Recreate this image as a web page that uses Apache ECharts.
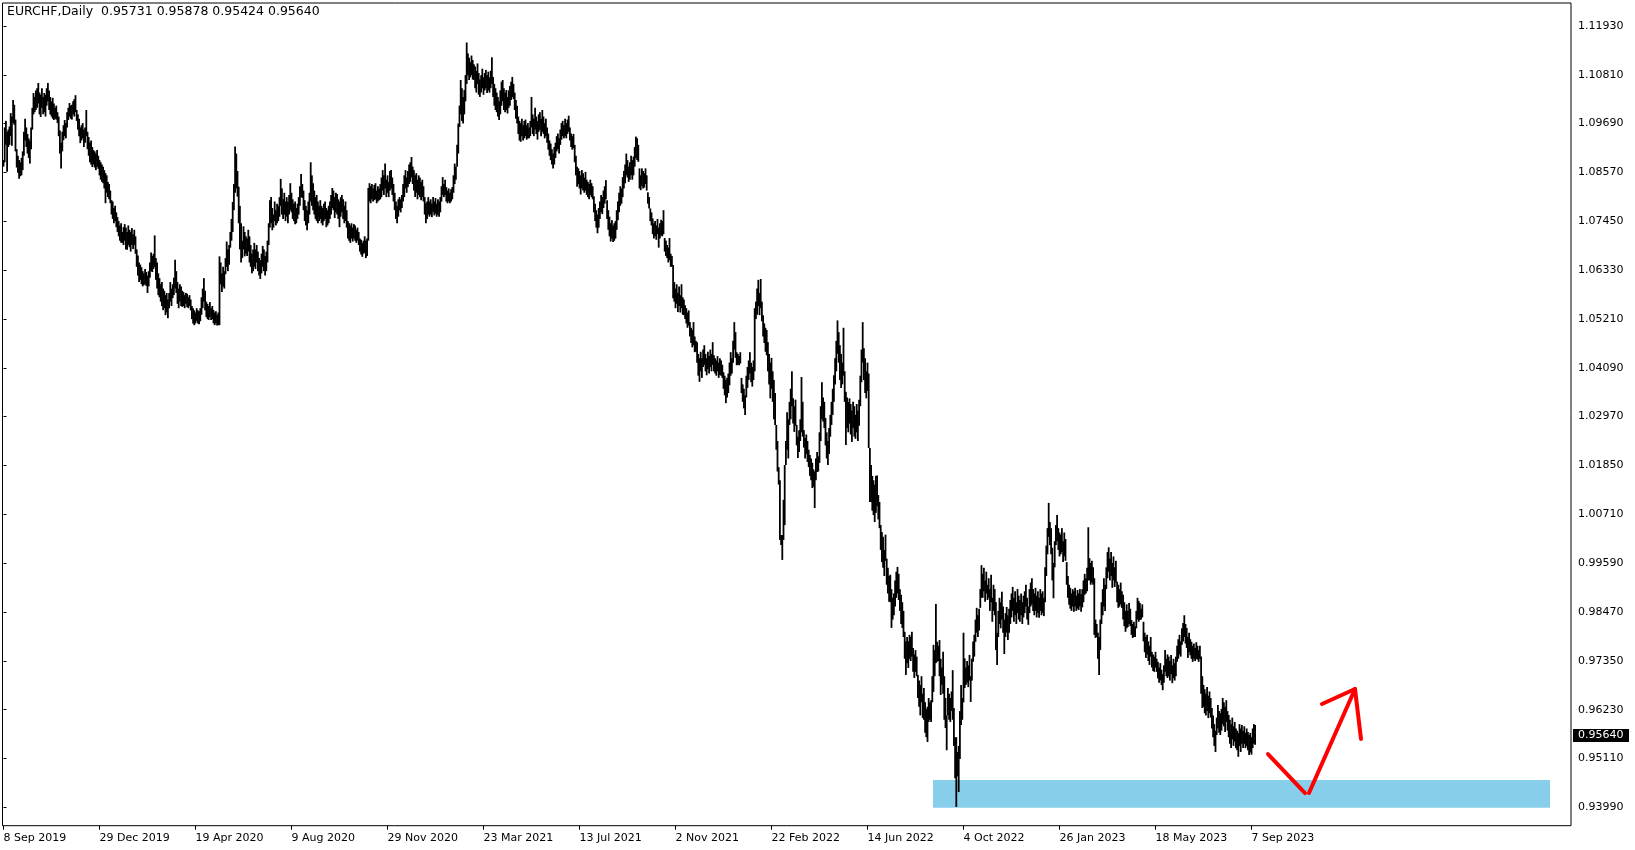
<!DOCTYPE html>
<html><head><meta charset="utf-8">
<script src="https://cdn.jsdelivr.net/npm/echarts@6/dist/echarts.min.js"></script>
<style>html,body{margin:0;padding:0;background:#fff}#c{width:1635px;height:850px}</style>
</head><body><div id="c"></div>
<script>
const symbolTitle = 'EURCHF,Daily';
const lastBar = [0.95731, 0.95878, 0.95424, 0.95640]; // open, high, low, close
const xLabels = ['8 Sep 2019','29 Dec 2019','19 Apr 2020','9 Aug 2020','29 Nov 2020','23 Mar 2021','13 Jul 2021','2 Nov 2021','22 Feb 2022','14 Jun 2022','4 Oct 2022','26 Jan 2023','18 May 2023','7 Sep 2023'];
const xLabelStep = 80; // bars between date labels
const yLabels = ['0.93990','0.95110','0.96230','0.97350','0.98470','0.99590','1.00710','1.01850','1.02970','1.04090','1.05210','1.06330','1.07450','1.08570','1.09690','1.10810','1.11930'];
const yLabelBase = 0.9399, yLabelStep = 0.0112125;

const highs = [
1.0885,1.0960,1.0975,1.0950,1.0955,1.0962,1.0993,1.0985,1.1023,1.1012,
1.0978,1.0910,1.0895,1.0885,1.0880,1.0890,1.0905,1.0950,1.0980,1.0960,
1.0945,1.0935,1.0930,1.0960,1.1005,1.1039,1.1030,1.1045,1.1050,1.1062,
1.1040,1.1035,1.1050,1.1030,1.1039,1.1035,1.1050,1.1062,1.1045,1.1030,
1.1020,1.1028,1.1015,1.1005,1.1010,1.0995,1.0985,1.0953,1.0925,1.0950,
1.0965,1.0977,1.0970,1.0995,1.1005,1.1016,1.1010,1.1012,1.1020,1.1025,
1.1034,1.1000,1.0990,1.0980,1.0960,1.0965,1.0970,1.0955,1.0960,1.1000,
1.0950,1.0938,1.0925,1.0930,1.0915,1.0908,1.0905,1.0900,1.0908,1.0895,
1.0885,1.0880,1.0875,1.0870,1.0862,1.0855,1.0850,1.0835,1.0830,1.0815,
1.0793,1.0790,1.0775,1.0780,1.0765,1.0754,1.0745,1.0735,1.0740,1.0720,
1.0731,1.0738,1.0730,1.0720,1.0735,1.0725,1.0720,1.0729,1.0715,1.0725,
1.0710,1.0680,1.0666,1.0650,1.0645,1.0639,1.0630,1.0625,1.0635,1.0628,
1.0620,1.0630,1.0650,1.0673,1.0665,1.0670,1.0712,1.0660,1.0650,1.0625,
1.0614,1.0600,1.0605,1.0590,1.0585,1.0575,1.0580,1.0565,1.0580,1.0605,
1.0590,1.0600,1.0615,1.0656,1.0630,1.0605,1.0590,1.0600,1.0595,1.0585,
1.0582,1.0575,1.0580,1.0578,1.0570,1.0575,1.0565,1.0550,1.0545,1.0540,
1.0535,1.0545,1.0540,1.0538,1.0545,1.0570,1.0590,1.0614,1.0585,1.0560,
1.0555,1.0550,1.0559,1.0545,1.0550,1.0541,1.0535,1.0538,1.0530,1.0535,
1.0664,1.0650,1.0625,1.0640,1.0630,1.0660,1.0698,1.0680,1.0690,1.0720,
1.0750,1.0789,1.0830,1.0916,1.0900,1.0860,1.0824,1.0780,1.0740,1.0700,
1.0733,1.0720,1.0710,1.0705,1.0725,1.0710,1.0690,1.0670,1.0680,1.0695,
1.0680,1.0690,1.0675,1.0660,1.0655,1.0670,1.0688,1.0680,1.0665,1.0675,
1.0700,1.0740,1.0793,1.0800,1.0775,1.0760,1.0790,1.0770,1.0785,1.0780,
1.0800,1.0842,1.0820,1.0795,1.0810,1.0790,1.0800,1.0790,1.0805,1.0832,
1.0810,1.0795,1.0785,1.0790,1.0775,1.0785,1.0800,1.0825,1.0853,1.0830,
1.0815,1.0793,1.0780,1.0770,1.0790,1.0810,1.0880,1.0850,1.0832,1.0815,
1.0800,1.0805,1.0790,1.0780,1.0793,1.0780,1.0775,1.0785,1.0790,1.0775,
1.0770,1.0780,1.0790,1.0805,1.0821,1.0815,1.0800,1.0810,1.0807,1.0795,
1.0790,1.0800,1.0805,1.0795,1.0780,1.0790,1.0770,1.0745,1.0740,1.0735,
1.0740,1.0730,1.0738,1.0735,1.0725,1.0730,1.0720,1.0705,1.0702,1.0695,
1.0700,1.0710,1.0700,1.0705,1.0821,1.0832,1.0825,1.0830,1.0820,1.0828,
1.0832,1.0815,1.0825,1.0820,1.0830,1.0845,1.0862,1.0850,1.0877,1.0840,
1.0850,1.0835,1.0860,1.0862,1.0845,1.0830,1.0810,1.0790,1.0780,1.0795,
1.0800,1.0795,1.0805,1.0830,1.0850,1.0862,1.0845,1.0860,1.0875,1.0880,
1.0892,1.0870,1.0862,1.0850,1.0855,1.0840,1.0850,1.0845,1.0835,1.0840,
1.0825,1.0800,1.0786,1.0790,1.0800,1.0790,1.0795,1.0785,1.0800,1.0790,
1.0798,1.0785,1.0795,1.0790,1.0800,1.0825,1.0846,1.0830,1.0840,1.0823,
1.0815,1.0820,1.0810,1.0818,1.0823,1.0850,1.0877,1.0870,1.0920,1.0969,
1.1010,1.1069,1.1050,1.1030,1.1046,1.1080,1.1155,1.1130,1.1120,1.1110,
1.1125,1.1115,1.1105,1.1100,1.1090,1.1107,1.1085,1.1070,1.1080,1.1095,
1.1075,1.1085,1.1092,1.1080,1.1088,1.1075,1.1090,1.1121,1.1076,1.1060,
1.1050,1.1040,1.1030,1.1020,1.1045,1.1065,1.1069,1.1050,1.1040,1.1046,
1.1030,1.1045,1.1055,1.1065,1.1076,1.1060,1.1040,1.1023,1.1010,1.0985,
1.0975,1.0970,1.0980,1.0965,1.0975,1.0978,1.0965,1.0970,1.0960,1.0975,
1.1030,1.0990,1.0980,1.1005,1.0985,1.0975,1.0990,1.0995,1.0980,1.1000,
1.0985,1.0970,1.0980,1.0960,1.0946,1.0930,1.0923,1.0910,1.0900,1.0915,
1.0925,1.0940,1.0946,1.0935,1.0955,1.0970,1.0975,1.0965,1.0980,1.0970,
1.0978,1.0987,1.0960,1.0946,1.0940,1.0945,1.0920,1.0895,1.0870,1.0866,
1.0860,1.0850,1.0862,1.0855,1.0845,1.0858,1.0840,1.0835,1.0830,1.0840,
1.0832,1.0825,1.0802,1.0785,1.0770,1.0760,1.0775,1.0790,1.0805,1.0800,
1.0815,1.0825,1.0839,1.0793,1.0770,1.0755,1.0740,1.0747,1.0735,1.0740,
1.0745,1.0770,1.0790,1.0810,1.0825,1.0820,1.0846,1.0860,1.0875,1.0900,
1.0885,1.0870,1.0880,1.0895,1.0885,1.0893,1.0915,1.0939,1.0935,1.0920,
1.0866,1.0850,1.0866,1.0860,1.0855,1.0866,1.0850,1.0811,1.0800,1.0774,
1.0765,1.0751,1.0740,1.0745,1.0735,1.0750,1.0730,1.0740,1.0748,1.0745,
1.0770,1.0706,1.0700,1.0690,1.0684,1.0706,1.0670,1.0665,1.0644,1.0605,
1.0590,1.0600,1.0580,1.0595,1.0575,1.0600,1.0570,1.0565,1.0552,1.0545,
1.0535,1.0540,1.0513,1.0500,1.0495,1.0513,1.0480,1.0470,1.0467,1.0440,
1.0430,1.0445,1.0430,1.0450,1.0460,1.0440,1.0430,1.0445,1.0435,1.0450,
1.0440,1.0467,1.0437,1.0430,1.0425,1.0435,1.0420,1.0430,1.0425,1.0415,
1.0398,1.0390,1.0380,1.0385,1.0395,1.0420,1.0444,1.0430,1.0470,1.0513,
1.0490,1.0444,1.0440,1.0435,1.0444,1.0385,1.0370,1.0360,1.0345,1.0390,
1.0410,1.0425,1.0444,1.0420,1.0410,1.0425,1.0545,1.0560,1.0590,1.0610,
1.0580,1.0612,1.0560,1.0529,1.0510,1.0500,1.0495,1.0467,1.0440,1.0420,
1.0431,1.0400,1.0380,1.0350,1.0277,1.0240,1.0180,1.0150,1.0024,1.0024,
1.0105,1.0185,1.0240,1.0306,1.0290,1.0330,1.0360,1.0400,1.0338,1.0320,
1.0335,1.0277,1.0250,1.0265,1.0290,1.0387,1.0330,1.0265,1.0247,1.0255,
1.0240,1.0220,1.0208,1.0200,1.0190,1.0175,1.0170,1.0200,1.0215,1.0205,
1.0260,1.0320,1.0375,1.0340,1.0330,1.0293,1.0260,1.0240,1.0270,1.0300,
1.0330,1.0360,1.0391,1.0430,1.0470,1.0517,1.0490,1.0460,1.0440,1.0420,
1.0500,1.0400,1.0353,1.0340,1.0330,1.0338,1.0325,1.0310,1.0330,1.0320,
1.0300,1.0325,1.0310,1.0335,1.0390,1.0450,1.0513,1.0453,1.0430,1.0400,
1.0420,1.0395,1.0224,1.0185,1.0160,1.0150,1.0140,1.0160,1.0161,1.0116,
1.0100,1.0047,1.0031,1.0020,0.9990,1.0025,0.9970,0.9949,0.9930,0.9933,
0.9900,0.9880,0.9890,0.9920,0.9940,0.9951,0.9935,0.9900,0.9887,0.9870,
0.9850,0.9802,0.9780,0.9790,0.9780,0.9795,0.9790,0.9802,0.9765,0.9750,
0.9760,0.9745,0.9703,0.9690,0.9680,0.9700,0.9660,0.9673,0.9640,0.9625,
0.9630,0.9650,0.9640,0.9645,0.9700,0.9772,0.9760,0.9866,0.9779,0.9770,
0.9783,0.9740,0.9720,0.9756,0.9700,0.9650,0.9610,0.9673,0.9660,0.9650,
0.9665,0.9714,0.9627,0.9560,0.9560,0.9526,0.9540,0.9620,0.9680,0.9650,
0.9800,0.9741,0.9720,0.9735,0.9725,0.9749,0.9700,0.9740,0.9780,0.9795,
0.9830,0.9857,0.9840,0.9855,0.9900,0.9955,0.9935,0.9949,0.9920,0.9940,
0.9910,0.9925,0.9900,0.9933,0.9880,0.9910,0.9900,0.9870,0.9800,0.9850,
0.9880,0.9870,0.9894,0.9860,0.9830,0.9845,0.9859,0.9840,0.9855,0.9875,
0.9890,0.9905,0.9880,0.9895,0.9870,0.9900,0.9885,0.9875,0.9890,0.9870,
0.9885,0.9895,0.9910,0.9880,0.9860,0.9900,0.9915,0.9925,0.9900,0.9890,
0.9903,0.9885,0.9895,0.9880,0.9900,0.9890,0.9895,0.9880,0.9950,1.0000,
1.0040,1.0098,1.0054,1.0040,0.9995,0.9960,1.0010,1.0047,1.0070,1.0040,
1.0030,1.0025,1.0040,1.0010,1.0030,1.0015,0.9962,0.9930,0.9910,0.9903,
0.9890,0.9900,0.9895,0.9903,0.9885,0.9898,0.9890,0.9900,0.9888,0.9900,
0.9920,0.9935,0.9925,0.9949,1.0042,0.9971,0.9960,0.9965,0.9950,0.9925,
0.9830,0.9820,0.9800,0.9790,0.9830,0.9870,0.9900,0.9925,0.9910,0.9950,
0.9985,0.9996,0.9970,0.9985,0.9960,0.9975,0.9950,0.9965,0.9917,0.9910,
0.9900,0.9915,0.9895,0.9887,0.9870,0.9850,0.9865,0.9850,0.9868,0.9855,
0.9829,0.9820,0.9825,0.9815,0.9850,0.9880,0.9873,0.9868,0.9855,0.9865,
0.9825,0.9800,0.9790,0.9795,0.9780,0.9770,0.9790,0.9756,0.9750,0.9745,
0.9756,0.9740,0.9733,0.9720,0.9730,0.9715,0.9705,0.9725,0.9760,0.9740,
0.9750,0.9745,0.9735,0.9749,0.9725,0.9740,0.9730,0.9745,0.9770,0.9785,
0.9795,0.9780,0.9810,0.9822,0.9840,0.9820,0.9811,0.9790,0.9800,0.9785,
0.9779,0.9770,0.9775,0.9765,0.9778,0.9770,0.9760,0.9770,0.9745,0.9700,
0.9680,0.9670,0.9660,0.9675,0.9655,0.9665,0.9650,0.9627,0.9610,0.9590,
0.9575,0.9605,0.9634,0.9620,0.9615,0.9625,0.9650,0.9640,0.9630,0.9645,
0.9620,0.9611,0.9600,0.9590,0.9605,0.9585,0.9595,0.9580,0.9575,0.9570,
0.9590,0.9580,0.9588,0.9575,0.9585,0.9570,0.9580,0.9572,0.9565,0.9570,
0.9560,0.9580,0.9590,0.95878
];

const lows = [
1.0870,1.0880,1.0920,1.0858,1.0915,1.0920,1.0940,1.0918,1.0970,1.0966,
1.0905,1.0868,1.0856,1.0842,1.0848,1.0850,1.0862,1.0895,1.0930,1.0915,
1.0900,1.0890,1.0877,1.0910,1.0955,1.0990,1.0995,1.1000,1.1005,1.1015,
1.0990,1.0984,1.1005,1.0990,1.0995,1.0985,1.1010,1.1020,1.1000,1.0990,
1.0985,1.0980,1.0977,1.0980,1.0978,1.0970,1.0940,1.0900,1.0866,1.0905,
1.0931,1.0940,1.0935,1.0960,1.0977,1.0985,1.0980,1.0978,1.0990,1.0985,
1.0995,1.0975,1.0955,1.0940,1.0924,1.0930,1.0935,1.0915,1.0925,1.0940,
1.0910,1.0895,1.0880,1.0875,1.0869,1.0875,1.0868,1.0862,1.0870,1.0865,
1.0850,1.0840,1.0835,1.0832,1.0820,1.0786,1.0810,1.0800,1.0795,1.0786,
1.0760,1.0750,1.0740,1.0745,1.0731,1.0720,1.0710,1.0700,1.0695,1.0695,
1.0690,1.0700,1.0680,1.0679,1.0690,1.0685,1.0675,1.0690,1.0681,1.0690,
1.0670,1.0640,1.0620,1.0605,1.0610,1.0600,1.0595,1.0598,1.0600,1.0596,
1.0580,1.0595,1.0615,1.0630,1.0628,1.0635,1.0640,1.0610,1.0590,1.0575,
1.0570,1.0560,1.0550,1.0540,1.0545,1.0529,1.0535,1.0522,1.0545,1.0560,
1.0550,1.0568,1.0575,1.0590,1.0580,1.0555,1.0545,1.0560,1.0550,1.0548,
1.0550,1.0545,1.0555,1.0548,1.0545,1.0550,1.0540,1.0520,1.0510,1.0506,
1.0510,1.0515,1.0510,1.0508,1.0515,1.0530,1.0545,1.0560,1.0540,1.0525,
1.0520,1.0518,1.0525,1.0518,1.0520,1.0510,1.0506,1.0510,1.0505,1.0506,
1.0506,1.0600,1.0582,1.0595,1.0590,1.0623,1.0640,1.0630,1.0645,1.0684,
1.0700,1.0720,1.0770,1.0810,1.0820,1.0801,1.0740,1.0680,1.0650,1.0660,
1.0680,1.0664,1.0670,1.0665,1.0675,1.0650,1.0640,1.0625,1.0630,1.0640,
1.0635,1.0650,1.0630,1.0620,1.0612,1.0625,1.0640,1.0630,1.0620,1.0630,
1.0650,1.0690,1.0730,1.0740,1.0724,1.0730,1.0745,1.0735,1.0740,1.0745,
1.0755,1.0780,1.0760,1.0750,1.0760,1.0745,1.0755,1.0740,1.0760,1.0770,
1.0765,1.0750,1.0745,1.0738,1.0740,1.0750,1.0760,1.0780,1.0800,1.0798,
1.0770,1.0745,1.0735,1.0724,1.0740,1.0760,1.0790,1.0780,1.0770,1.0760,
1.0750,1.0745,1.0740,1.0745,1.0750,1.0740,1.0735,1.0745,1.0750,1.0731,
1.0735,1.0740,1.0750,1.0760,1.0775,1.0770,1.0752,1.0765,1.0760,1.0750,
1.0731,1.0755,1.0765,1.0750,1.0740,1.0745,1.0730,1.0705,1.0700,1.0695,
1.0705,1.0698,1.0705,1.0700,1.0695,1.0700,1.0690,1.0675,1.0668,1.0663,
1.0670,1.0672,1.0660,1.0665,1.0700,1.0790,1.0786,1.0795,1.0790,1.0793,
1.0795,1.0786,1.0790,1.0793,1.0795,1.0800,1.0815,1.0805,1.0820,1.0800,
1.0810,1.0800,1.0815,1.0820,1.0805,1.0790,1.0770,1.0750,1.0740,1.0755,
1.0770,1.0765,1.0775,1.0790,1.0800,1.0820,1.0810,1.0823,1.0830,1.0835,
1.0845,1.0830,1.0815,1.0800,1.0810,1.0795,1.0805,1.0800,1.0793,1.0800,
1.0790,1.0760,1.0740,1.0750,1.0760,1.0755,1.0760,1.0754,1.0765,1.0758,
1.0762,1.0755,1.0760,1.0755,1.0765,1.0790,1.0805,1.0800,1.0805,1.0790,
1.0786,1.0790,1.0786,1.0790,1.0795,1.0810,1.0830,1.0840,1.0870,1.0900,
1.0961,1.0990,1.0975,1.0969,1.0990,1.1020,1.1060,1.1080,1.1069,1.1075,
1.1080,1.1070,1.1069,1.1050,1.1040,1.1060,1.1035,1.1030,1.1040,1.1050,
1.1035,1.1045,1.1050,1.1039,1.1045,1.1040,1.1050,1.1060,1.1030,1.1010,
1.1000,1.0995,1.0985,1.0977,1.0990,1.1010,1.1020,1.1000,1.0995,1.1000,
1.0992,1.1005,1.1010,1.1023,1.1030,1.1025,1.1000,1.0980,1.0969,1.0945,
1.0930,1.0927,1.0940,1.0930,1.0935,1.0940,1.0932,1.0935,1.0935,1.0940,
1.0960,1.0945,1.0940,1.0955,1.0945,1.0932,1.0950,1.0955,1.0940,1.0950,
1.0945,1.0935,1.0940,1.0925,1.0909,1.0895,1.0885,1.0875,1.0866,1.0875,
1.0890,1.0905,1.0910,1.0900,1.0920,1.0932,1.0940,1.0935,1.0940,1.0935,
1.0945,1.0950,1.0930,1.0915,1.0909,1.0912,1.0880,1.0850,1.0824,1.0830,
1.0820,1.0806,1.0820,1.0815,1.0810,1.0815,1.0805,1.0800,1.0795,1.0805,
1.0800,1.0795,1.0765,1.0745,1.0730,1.0717,1.0730,1.0750,1.0765,1.0761,
1.0775,1.0785,1.0795,1.0750,1.0725,1.0710,1.0698,1.0705,1.0697,1.0700,
1.0705,1.0725,1.0747,1.0765,1.0780,1.0785,1.0800,1.0820,1.0832,1.0850,
1.0845,1.0835,1.0840,1.0850,1.0840,1.0850,1.0870,1.0890,1.0885,1.0881,
1.0820,1.0816,1.0825,1.0820,1.0822,1.0830,1.0815,1.0785,1.0774,1.0745,
1.0735,1.0715,1.0705,1.0710,1.0702,1.0715,1.0684,1.0705,1.0712,1.0710,
1.0715,1.0675,1.0665,1.0660,1.0650,1.0655,1.0640,1.0640,1.0568,1.0560,
1.0545,1.0555,1.0536,1.0550,1.0535,1.0545,1.0530,1.0529,1.0520,1.0510,
1.0500,1.0505,1.0480,1.0465,1.0455,1.0460,1.0444,1.0445,1.0420,1.0390,
1.0376,1.0400,1.0385,1.0410,1.0415,1.0400,1.0391,1.0405,1.0395,1.0410,
1.0400,1.0415,1.0400,1.0395,1.0390,1.0400,1.0385,1.0392,1.0390,1.0385,
1.0360,1.0345,1.0327,1.0340,1.0350,1.0368,1.0390,1.0395,1.0420,1.0450,
1.0431,1.0414,1.0415,1.0414,1.0418,1.0350,1.0330,1.0315,1.0300,1.0340,
1.0362,1.0380,1.0395,1.0375,1.0365,1.0380,1.0400,1.0520,1.0530,1.0550,
1.0529,1.0545,1.0515,1.0480,1.0465,1.0445,1.0437,1.0400,1.0370,1.0338,
1.0360,1.0330,1.0290,1.0277,1.0220,1.0170,1.0140,1.0013,1.0001,0.9967,
1.0013,1.0047,1.0185,1.0220,1.0200,1.0277,1.0290,1.0320,1.0280,1.0261,
1.0275,1.0230,1.0201,1.0215,1.0240,1.0260,1.0250,1.0225,1.0200,1.0210,
1.0192,1.0180,1.0160,1.0150,1.0132,1.0135,1.0086,1.0150,1.0169,1.0170,
1.0190,1.0240,1.0290,1.0285,1.0270,1.0230,1.0200,1.0185,1.0210,1.0250,
1.0277,1.0300,1.0330,1.0370,1.0400,1.0440,1.0420,1.0380,1.0362,1.0370,
1.0390,1.0330,1.0231,1.0270,1.0260,1.0280,1.0255,1.0238,1.0270,1.0250,
1.0245,1.0260,1.0240,1.0275,1.0320,1.0375,1.0420,1.0380,1.0350,1.0338,
1.0355,1.0224,1.0100,1.0100,1.0080,1.0070,1.0054,1.0075,1.0090,1.0060,
1.0040,0.9990,0.9962,0.9949,0.9930,0.9965,0.9910,0.9890,0.9871,0.9870,
0.9811,0.9830,0.9840,0.9860,0.9880,0.9890,0.9875,0.9850,0.9820,0.9811,
0.9790,0.9740,0.9703,0.9730,0.9719,0.9740,0.9735,0.9745,0.9710,0.9696,
0.9710,0.9700,0.9650,0.9630,0.9610,0.9640,0.9604,0.9600,0.9570,0.9560,
0.9549,0.9595,0.9600,0.9595,0.9640,0.9664,0.9700,0.9730,0.9733,0.9735,
0.9700,0.9657,0.9680,0.9660,0.9600,0.9581,0.9530,0.9610,0.9600,0.9595,
0.9620,0.9600,0.9540,0.9466,0.9400,0.9470,0.9434,0.9510,0.9588,0.9600,
0.9640,0.9673,0.9680,0.9685,0.9675,0.9690,0.9641,0.9690,0.9733,0.9745,
0.9779,0.9800,0.9790,0.9805,0.9857,0.9880,0.9880,0.9895,0.9871,0.9890,
0.9875,0.9880,0.9850,0.9870,0.9825,0.9850,0.9840,0.9760,0.9726,0.9790,
0.9820,0.9810,0.9830,0.9800,0.9751,0.9790,0.9800,0.9783,0.9800,0.9820,
0.9835,0.9850,0.9825,0.9840,0.9820,0.9845,0.9830,0.9825,0.9840,0.9820,
0.9835,0.9845,0.9860,0.9830,0.9818,0.9845,0.9860,0.9865,0.9850,0.9840,
0.9850,0.9835,0.9845,0.9834,0.9850,0.9840,0.9845,0.9838,0.9870,0.9930,
0.9980,1.0020,1.0001,0.9980,0.9920,0.9879,0.9950,1.0001,1.0010,0.9990,
0.9975,0.9980,0.9985,0.9962,0.9975,0.9965,0.9910,0.9880,0.9864,0.9855,
0.9850,0.9860,0.9848,0.9860,0.9850,0.9855,0.9852,0.9860,0.9848,0.9858,
0.9870,0.9887,0.9890,0.9895,0.9920,0.9920,0.9910,0.9915,0.9910,0.9795,
0.9788,0.9790,0.9740,0.9703,0.9760,0.9820,0.9840,0.9860,0.9850,0.9900,
0.9925,0.9940,0.9920,0.9930,0.9903,0.9920,0.9905,0.9915,0.9870,0.9857,
0.9860,0.9865,0.9857,0.9830,0.9815,0.9802,0.9810,0.9813,0.9820,0.9815,
0.9795,0.9788,0.9790,0.9790,0.9810,0.9830,0.9825,0.9829,0.9830,0.9835,
0.9780,0.9755,0.9742,0.9750,0.9735,0.9726,0.9745,0.9720,0.9712,0.9710,
0.9720,0.9710,0.9695,0.9685,0.9690,0.9680,0.9668,0.9685,0.9710,0.9700,
0.9696,0.9700,0.9690,0.9705,0.9684,0.9695,0.9690,0.9700,0.9733,0.9740,
0.9750,0.9745,0.9772,0.9780,0.9790,0.9775,0.9765,0.9742,0.9755,0.9748,
0.9740,0.9733,0.9740,0.9735,0.9740,0.9738,0.9733,0.9740,0.9660,0.9627,
0.9630,0.9615,0.9610,0.9620,0.9604,0.9615,0.9605,0.9580,0.9560,0.9540,
0.9526,0.9565,0.9580,0.9570,0.9565,0.9575,0.9590,0.9585,0.9572,0.9595,
0.9575,0.9560,0.9545,0.9535,0.9555,0.9540,0.9550,0.9535,0.9530,0.9515,
0.9540,0.9526,0.9545,0.9535,0.9545,0.9535,0.9540,0.9530,0.9519,0.9525,
0.9520,0.9535,0.9545,0.95424
];

// Drawn objects, in chart units (bar index, price)
const supportZone = [774.6, 0.94617, 1288.75, 0.9398];
const arrowStrokes = [
  [1053.75, 0.95214, 1084.6, 0.94318],
  [1087.9, 0.94318, 1126.25, 0.96706],
  [1098.75, 0.96362, 1126.25, 0.96706],
  [1126.25, 0.96706, 1131.25, 0.95558]
];

const FONT = 'DejaVu Sans';
const X_MIN = -0.833, X_MAX = 1306.25;
const chart = echarts.init(document.getElementById('c'));
const barData = highs.map((h, i) => [i, lows[i], h]);
const xTicks = xLabels.map((_, k) => k * xLabelStep);
const yTicks = yLabels.map((_, k) => +(yLabelBase + k * yLabelStep).toFixed(6));
const fmt = v => v.toFixed(5);

chart.setOption({
  animation: false,
  backgroundColor: '#fff',
  grid: { left: 2.5, top: 3, width: 1568.5, height: 822.7, show: true, borderColor: '#000', borderWidth: 1, backgroundColor: '#fff' },
  xAxis: {
    type: 'value', min: X_MIN, max: X_MAX,
    axisLine: { show: false }, splitLine: { show: false },
    axisTick: { show: true, customValues: xTicks, length: 4, lineStyle: { color: '#000' } },
    axisLabel: { customValues: xTicks, formatter: v => xLabels[Math.round(v / xLabelStep)] || '',
      align: 'left', margin: 7, color: '#000', fontFamily: FONT, fontSize: 11 }
  },
  yAxis: {
    type: 'value', position: 'right', min: 0.93568, max: 1.12457,
    axisLine: { show: false }, splitLine: { show: false },
    axisTick: { show: true, customValues: yTicks, length: 3, lineStyle: { color: '#000' } },
    axisLabel: { customValues: yTicks, formatter: v => yLabels[Math.round((v - yLabelBase) / yLabelStep)] || '',
      margin: 7, color: '#000', fontFamily: FONT, fontSize: 11 }
  },
  graphic: [{
    type: 'text', x: 7, y: 12,
    style: { text: symbolTitle + '  ' + lastBar.map(fmt).join(' '), fill: '#000', font: '12.5px ' + FONT, verticalAlign: 'middle' }
  }],
  series: [
    {
      type: 'custom', z: 1, silent: true,
      data: [supportZone],
      renderItem: (p, api) => {
        const a = api.coord([api.value(0), api.value(1)]);
        const b = api.coord([api.value(2), api.value(3)]);
        return { type: 'rect', shape: { x: a[0], y: a[1], width: b[0] - a[0], height: b[1] - a[1] }, style: { fill: '#87CEEB' } };
      }
    },
    {
      type: 'custom', z: 2, silent: true,
      data: barData,
      encode: { x: 0, y: [1, 2] },
      renderItem: (p, api) => {
        const i = api.value(0);
        const lo = api.coord([i, api.value(1)]);
        const hi = api.coord([i, api.value(2)]);
        return { type: 'rect', shape: { x: lo[0] - 0.9, y: hi[1], width: 1.8, height: Math.max(1, lo[1] - hi[1]) }, style: { fill: '#000' } };
      }
    },
    {
      type: 'custom', z: 3, silent: true,
      data: arrowStrokes,
      renderItem: (p, api) => {
        const a = api.coord([api.value(0), api.value(1)]);
        const b = api.coord([api.value(2), api.value(3)]);
        return { type: 'line', shape: { x1: a[0], y1: a[1], x2: b[0], y2: b[1] }, style: { stroke: '#FF0000', lineWidth: 4, lineCap: 'round' } };
      }
    },
    {
      type: 'custom', z: 4, silent: true, clip: false,
      data: [[X_MAX, lastBar[3]]],
      renderItem: (p, api) => {
        const c = api.coord([api.value(0), api.value(1)]);
        return { type: 'group', children: [
          { type: 'rect', shape: { x: c[0] + 2, y: c[1] - 6.5, width: 56, height: 13 }, style: { fill: '#000' } },
          { type: 'text', x: c[0] + 7, y: c[1], style: { text: fmt(api.value(1)), fill: '#fff', font: '11px ' + FONT, verticalAlign: 'middle' } }
        ] };
      }
    }
  ]
});
</script>
</body></html>
